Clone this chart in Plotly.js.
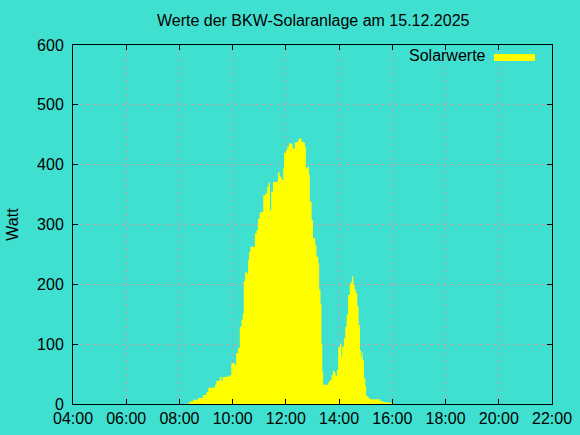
<!DOCTYPE html>
<html>
<head>
<meta charset="utf-8">
<script src="https://cdn.plot.ly/plotly-3.0.1.min.js"></script>
<style>html,body{margin:0;padding:0;background:#40e0d0;}</style>
</head>
<body>
<div id="chart" style="width:580px;height:435px;"></div>
<script>
const day = '2025-12-15';
const times = ['08:14','08:16','08:23','08:31','08:42','08:53','09:01','09:05','09:12','09:20','09:23','09:31','09:35','09:38','09:46','09:53','09:57','10:05','10:08','10:12','10:16','10:20','10:23','10:25','10:28','10:32','10:35','10:37','10:40','10:46','10:50','10:54','10:57','11:01','11:05','11:09','11:14','11:18','11:21','11:24','11:27','11:31','11:39','11:42','11:46','11:50','11:54','11:56','12:00','12:03','12:07','12:10','12:15','12:20','12:24','12:28','12:31','12:35','12:39','12:43','12:45','12:48','12:52','12:54','12:58','13:01','13:06','13:09','13:13','13:15','13:18','13:20','13:22','13:24','13:35','13:37','13:40','13:43','13:46','13:50','13:52','13:55','13:58','14:02','14:05','14:07','14:11','14:14','14:17','14:20','14:24','14:26','14:29','14:32','14:35','14:38','14:41','14:44','14:47','14:49','14:51','14:53','14:56','14:59','15:01','15:05','15:09','15:32','15:39','15:51','16:00'];
const watts = [0,1,4,7,10,15,20,27,27,32,39,45,39,45,46,48,68,65,85,93,129,141,151,205,220,218,241,254,263,263,285,291,309,320,321,349,352,363,370,324,355,371,372,387,380,375,394,420,424,430,436,435,427,437,438,442,444,438,437,430,394,396,383,338,307,277,266,246,235,191,168,101,54,32,35,38,40,48,55,52,47,57,95,101,79,96,110,129,149,182,199,204,213,199,191,185,163,132,90,79,87,73,43,30,13,11,8,5,3,2,0];
const tickTimes = ['04:00','06:00','08:00','10:00','12:00','14:00','16:00','18:00','20:00','22:00'];
const seriesName = 'Solarwerte';
const titleText = 'Werte der BKW-Solaranlage am 15.12.2025';
const yTitle = 'Watt';

const bg = '#40e0d0';
const gridColor = '#c8a0a0';
const fontFam = '"Liberation Sans", Arial, sans-serif';

const trace = {
  x: times.map(t => day + ' ' + t),
  y: watts,
  type: 'scatter',
  mode: 'lines',
  name: seriesName,
  line: {shape: 'hv', width: 0, color: '#ffff00'},
  fill: 'tozeroy',
  fillcolor: '#ffff00',
  showlegend: false,
  hoverinfo: 'x+y'
};

const axisCommon = {
  showline: true, linecolor: '#000', linewidth: 1, mirror: 'ticks',
  ticks: 'inside', ticklen: 5, tickcolor: '#000', tickwidth: 1,
  showgrid: true, gridcolor: gridColor, griddash: '3px,4px', gridwidth: 1,
  zeroline: false,
  tickfont: {family: fontFam, size: 16, color: '#000'}
};

const layout = {
  width: 580, height: 435,
  paper_bgcolor: bg, plot_bgcolor: bg,
  margin: {l: 73, r: 28, t: 45, b: 31, pad: 0},
  font: {family: fontFam, size: 16, color: '#000'},
  title: {text: titleText, font: {family: fontFam, size: 16, color: '#000'}, x: 0.54, xanchor: 'center', y: 1 - 20/435, yanchor: 'middle'},
  xaxis: Object.assign({}, axisCommon, {
    type: 'date',
    range: [day + ' 04:00', day + ' 22:00'],
    tickvals: tickTimes.map(t => day + ' ' + t),
    ticktext: tickTimes,
    fixedrange: true
  }),
  yaxis: Object.assign({}, axisCommon, {
    range: [0, 600], dtick: 100, tick0: 0,
    ticklabelstandoff: 5,
    title: {text: yTitle, font: {family: fontFam, size: 16, color: '#000'}, standoff: 14},
    fixedrange: true
  }),
  annotations: [{
    xref: 'paper', yref: 'paper', x: (488 - 73) / 479, y: 1 - (56 - 45) / 359,
    xanchor: 'right', yanchor: 'middle', showarrow: false,
    text: seriesName, font: {family: fontFam, size: 16, color: '#000'}
  }],
  shapes: [{
    type: 'rect', xref: 'paper', yref: 'paper',
    x0: (494 - 73) / 479, x1: (535 - 73) / 479,
    y0: 1 - (61 - 45) / 359, y1: 1 - (54 - 45) / 359,
    fillcolor: '#ffff00', line: {width: 0}
  }],
  showlegend: false
};

Plotly.newPlot('chart', [trace], layout, {displayModeBar: false, staticPlot: true});
</script>
</body>
</html>
